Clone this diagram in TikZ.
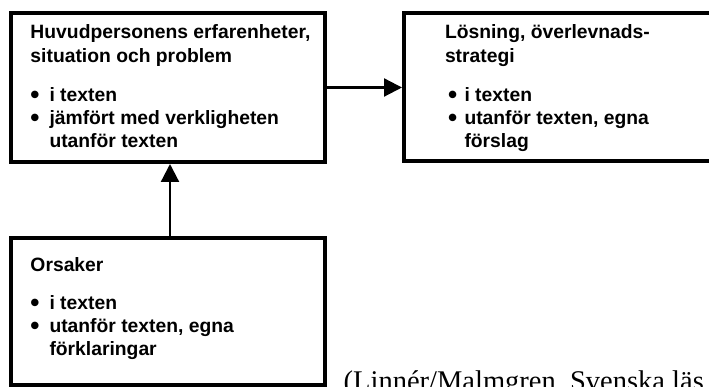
\documentclass[tikz,border=0pt]{standalone}
\usepackage{fontspec}
\setmainfont{Liberation Sans}
\newfontfamily\capfont{Liberation Serif}
\usetikzlibrary{arrows.meta}
\newcommand\bigdot{\smash{\raisebox{-1.6pt}{\scalebox{1.35}{•}}}}
\newcommand\bulA{\makebox[19pt][l]{\bigdot}}
\newcommand\bulB{\makebox[16.5pt][l]{\bigdot}}
\tikzset{
  box/.style={draw=black, line width=4pt, rectangle, inner sep=0pt},
  boxtext/.style={anchor=base west, inner sep=0pt, outer sep=0pt,
    font=\fontsize{19.3}{23}\selectfont\bfseries},
  conn/.style={draw=black, line width=2.2pt, -{Triangle[length=18pt,width=18pt]}},
  captxt/.style={anchor=base west, inner sep=0pt, font=\fontsize{28.5}{30}\capfont}
}
\begin{document}
\begin{tikzpicture}[x=1pt,y=1pt]
\useasboundingbox (0,0) rectangle (709,387);
\clip (0,0) rectangle (709,387);
% boxes
\node[box, minimum width=314pt, minimum height=149pt] (b1) at (168,299.5) {};
\node[box, minimum width=316pt, minimum height=148pt] (b2) at (562,299.5) {};
\node[box, minimum width=314pt, minimum height=147pt] (b3) at (168,75.5) {};
% box 1 text
\node[boxtext] (b1l1) at (30.5,348) {Huvudpersonens erfarenheter,};
\node[boxtext] (b1l2) at (30.5,324) {situation och problem};
\node[boxtext] (b1l3) at (30.5,285) {\bulA i texten};
\node[boxtext] (b1l4) at (30.5,262) {\bulA jämfört med verkligheten};
\node[boxtext] (b1l5) at (49.5,239) {utanför texten};
% box 2 text
\node[boxtext] (b2l1) at (445,348) {Lösning, överlevnads-};
\node[boxtext] (b2l2) at (445,324) {strategi};
\node[boxtext] (b2l3) at (448,285) {\bulB i texten};
\node[boxtext] (b2l4) at (448,262) {\bulB utanför texten, egna};
\node[boxtext] (b2l5) at (464.5,239) {förslag};
% box 3 text
\node[boxtext] (b3l1) at (30.5,115) {Orsaker};
\node[boxtext] (b3l2) at (30.5,77) {\bulA i texten};
\node[boxtext] (b3l3) at (30.5,54) {\bulA utanför texten, egna};
\node[boxtext] (b3l4) at (49.5,31) {förklaringar};
% connectors
\draw[conn] (b1.east) -- (b2.west);
\draw[conn] ([xshift=2pt]b3.north) -- ([xshift=2pt]b1.south);
% caption
\node[captxt] (cap) at (343.5,-3.5) {(Linnér/Malmgren, Svenska läs};
\end{tikzpicture}
\end{document}
